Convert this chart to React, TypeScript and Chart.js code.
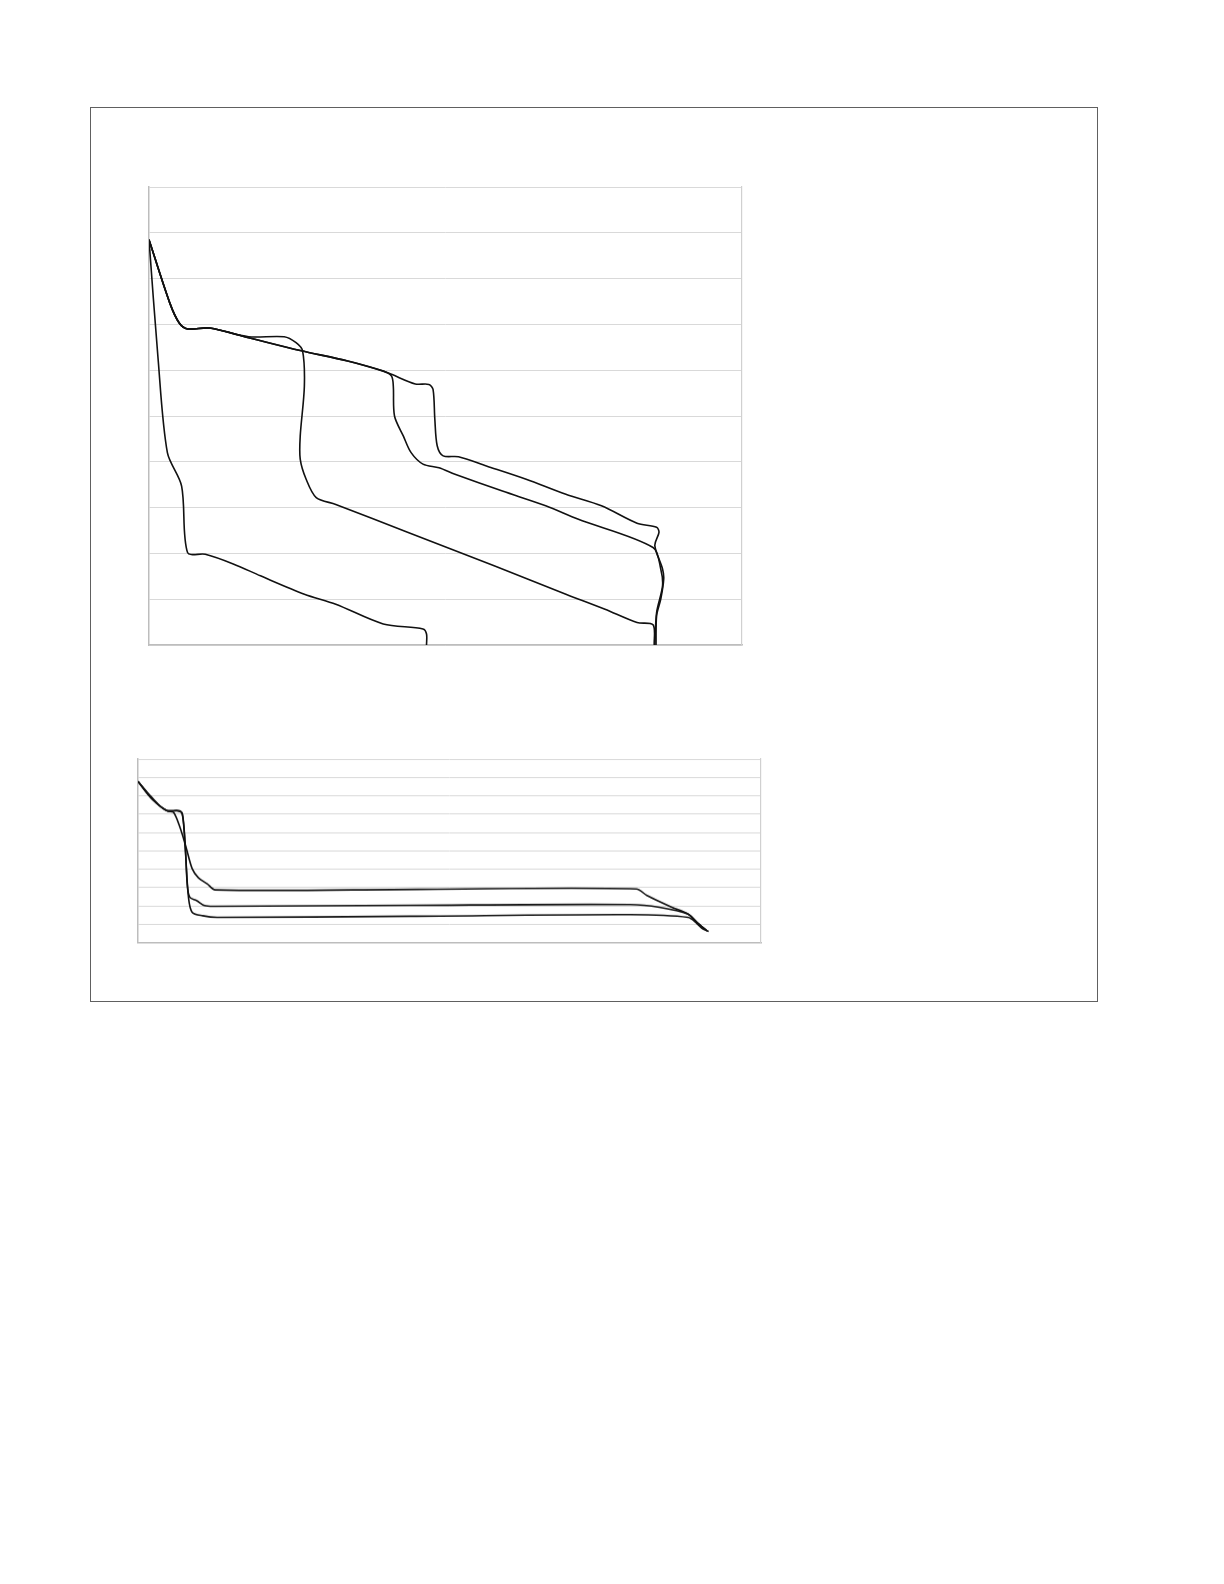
import { useEffect, useRef } from "react";
import { Chart, registerables } from "chart.js";

Chart.register(...registerables);

// upper chart (x 0-100, y 0-10)
const shared1X = [0, 3.5, 5.1, 6.5, 10.2];
const shared1Y = [8.85, 7.47, 7.03, 6.9, 6.92];

const seriesAX = [0, 1.5, 3.1, 5.5, 6.5, 9.5, 14.2, 18.8, 26.2, 31.5, 39.5, 46.2, 46.8, 46.8];
const seriesAY = [8.85, 6.3, 4.2, 3.47, 2.02, 1.98, 1.77, 1.51, 1.11, 0.89, 0.46, 0.35, 0.24, 0];

const seriesBX = [...shared1X, 16.8, 22.8, 24.8, 25.9, 26.2, 25.5, 25.5, 26.5, 28.2, 31.5, 43.6, 58.2, 70.3, 76.9, 82.3, 85.0, 85.2];
const seriesBY = [...shared1Y, 6.73, 6.73, 6.6, 6.42, 5.65, 4.56, 4.06, 3.62, 3.22, 3.07, 2.46, 1.73, 1.11, 0.78, 0.49, 0.44, 0];

const seriesCX = [...shared1X, 16.8, 25.5, 33.5, 39.5, 40.9, 41.2, 41.4, 42.9, 44.2, 46.2, 48.9, 51.6, 59.6, 66.9, 72.3, 85.0, 86.3, 86.6, 85.6, 85.3];
const seriesCY = [...shared1Y, 6.71, 6.43, 6.2, 5.98, 5.87, 5.65, 5.0, 4.56, 4.2, 3.95, 3.87, 3.73, 3.36, 3.04, 2.75, 2.13, 1.66, 1.29, 0.71, 0];

const seriesDX = [...shared1X, 16.8, 25.5, 33.5, 39.5, 40.9, 44.9, 47.2, 47.9, 48.2, 48.6, 49.6, 52.2, 56.9, 63.6, 70.3, 76.3, 82.3, 85.6, 86.0, 85.3, 86.6, 86.8, 86.3, 85.6, 85.5];
const seriesDY = [...shared1Y, 6.71, 6.43, 6.2, 5.98, 5.91, 5.7, 5.69, 5.58, 4.93, 4.35, 4.13, 4.11, 3.91, 3.62, 3.29, 3.04, 2.66, 2.57, 2.46, 2.17, 1.66, 1.44, 1.0, 0.64, 0];

// lower chart (x 0-100, y 0-10)
const seriesEX = [0, 2.4, 4.7, 5.7, 6.7, 7.7, 8.7, 9.7, 11.1, 12.4, 45, 80.0, 81.7, 85.7, 88.3, 89.7, 91.3];
const seriesEY = [8.78, 7.77, 7.17, 7.09, 6.31, 5.21, 4.02, 3.53, 3.2, 2.87, 2.9, 2.92, 2.56, 1.92, 1.55, 1.1, 0.64];

const seriesFX = [0, 2.1, 4.4, 6.7, 7.2, 7.6, 7.9, 8.3, 9.4, 10.7, 12.4, 43.7, 79.0, 83.7, 88.3, 89.7, 91.3];
const seriesFY = [8.78, 7.95, 7.22, 7.18, 6.86, 5.21, 3.2, 2.47, 2.29, 2.01, 1.97, 2.03, 2.07, 1.92, 1.55, 1.1, 0.64];

const seriesGX = [0, 2.3, 4.7, 6.4, 7.1, 7.6, 8.1, 8.7, 10.4, 12.7, 43.7, 79.0, 88.3, 89.7, 90.7, 91.6];
const seriesGY = [8.78, 7.81, 7.18, 7.17, 7.04, 5.03, 2.47, 1.65, 1.46, 1.37, 1.43, 1.52, 1.37, 1.04, 0.73, 0.6];

const zip = (xs: number[], ys: number[]) => xs.map((x, i) => ({ x, y: ys[i] }));

const PAD = 4;

function PlotBox({ left, top, width, height, series }: {
  left: number; top: number; width: number; height: number;
  series: { x: number; y: number }[][];
}) {
  const ref = useRef<HTMLCanvasElement>(null);

  useEffect(() => {
    if (!ref.current) return;
    const chart = new Chart(ref.current, {
      type: "scatter",
      data: {
        datasets: series.map(pts => ({
          data: pts,
          showLine: true,
          borderColor: "#111",
          borderWidth: 1.6,
          pointRadius: 0,
          tension: 0.3,
        })),
      },
      options: {
        animation: false,
        responsive: true,
        maintainAspectRatio: false,
        layout: { padding: PAD },
        plugins: { legend: { display: false }, tooltip: { enabled: false } },
        scales: {
          x: {
            type: "linear", min: 0, max: 100,
            ticks: { display: false },
            grid: { display: false, drawTicks: false },
            border: { color: "#bdbdbd", width: 1.5 },
          },
          y: {
            min: 0, max: 10,
            ticks: { display: false, stepSize: 1 },
            grid: { color: "#d9d9d9", lineWidth: 1, drawTicks: false },
            border: { color: "#bdbdbd", width: 1.5 },
          },
          y2: {
            position: "right", min: 0, max: 10,
            ticks: { display: false },
            grid: { display: false, drawTicks: false },
            border: { color: "#d0d0d0", width: 1.2 },
          },
        },
      },
    });
    return () => chart.destroy();
  }, [series]);

  return (
    <div style={{
      position: "absolute",
      left: left - PAD, top: top - PAD,
      width: width + 2 * PAD, height: height + 2 * PAD,
    }}>
      <canvas ref={ref} />
    </div>
  );
}

const upper = [zip(seriesAX, seriesAY), zip(seriesBX, seriesBY), zip(seriesCX, seriesCY), zip(seriesDX, seriesDY)];
const lower = [zip(seriesEX, seriesEY), zip(seriesFX, seriesFY), zip(seriesGX, seriesGY)];

export default function App() {
  return (
    <div>
      <div style={{
        position: "absolute", left: 90, top: 107, width: 1008, height: 895,
        border: "1px solid #606060", boxSizing: "border-box",
      }} />
      <PlotBox left={148.5} top={187} width={593} height={458} series={upper} />
      <PlotBox left={137.5} top={759} width={623} height={182.5} series={lower} />
    </div>
  );
}
